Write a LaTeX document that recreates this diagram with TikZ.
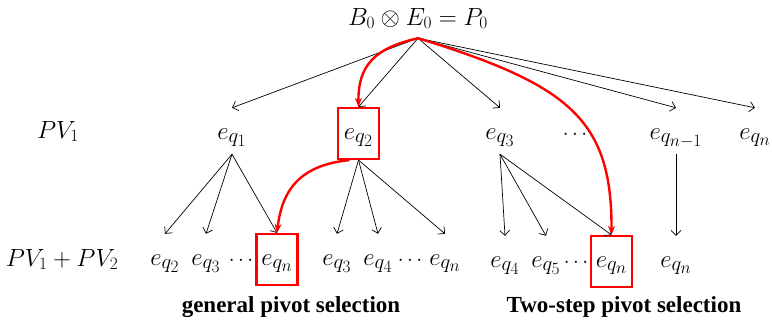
\documentclass[tikz,border=0pt]{standalone}
\usepackage{fontspec}
\newfontfamily\capfont{Liberation Serif}
\usetikzlibrary{arrows.meta}
% larger sub- and superscripts for the entry labels
\DeclareMathSizes{28}{28}{20}{16}
\DeclareMathSizes{26}{26}{19}{15}
\begin{document}
\begin{tikzpicture}[x=1pt,y=-1pt,
  every node/.style={font=\fontsize{26}{30}\selectfont},
  ent/.style={anchor=base, inner sep=0pt, text height=31pt, text depth=20pt, minimum width=41pt,
    font=\fontsize{28}{32}\selectfont},
  pick/.style={ent, draw=red, line width=2.2pt},
  lbl/.style={anchor=base, inner sep=0pt},
  dotsx/.style={anchor=base, inner sep=0pt, font=\fontsize{20}{24}\selectfont},
  captext/.style={anchor=base, inner sep=0pt, font=\capfont\bfseries\fontsize{23}{26}\selectfont},
  link/.style={line width=0.7pt, -{Straight Barb[length=5pt,width=10pt]}},
  route/.style={red, line width=2.4pt, -{Stealth[length=9pt,width=7pt]}}
]
\useasboundingbox (0,0) rectangle (772,324);

% root product
\node[lbl, text depth=13pt] (root) at (418,25) {$B_0 \otimes E_0 = P_0$};

% row labels
\node[lbl] (pv1) at (58,138) {$PV_1$};
\node[lbl] (pv12) at (62,266) {$PV_1 + PV_2$};

% first pivot level
\node[ent]   (q1) at (232,139)   {$e_{q_1}$};
\node[pick]  (q2) at (358.5,139) {$e_{q_2}$};
\node[ent]   (q3) at (500,139)   {$e_{q_3}$};
\node[dotsx] (qd) at (575,139)   {$\cdots$};
\node[ent]   (qm) at (676,139)   {$e_{q_{n-1}}$};
\node[ent]   (qn) at (755,139)   {$e_{q_n}$};

% second pivot level
\node[ent]   (a2) at (165,265) {$e_{q_2}$};
\node[ent]   (a3) at (206,265) {$e_{q_3}$};
\node[dotsx] (ad) at (241,265) {$\cdots$};
\node[pick]  (an) at (277,265) {$e_{q_n}$};

\node[ent]   (b3) at (337,265) {$e_{q_3}$};
\node[ent]   (b4) at (378,265) {$e_{q_4}$};
\node[dotsx] (bd) at (410,265) {$\cdots$};
\node[ent]   (bn) at (445,265) {$e_{q_n}$};

\node[ent]   (c4) at (505,267)   {$e_{q_4}$};
\node[ent]   (c5) at (546,267)   {$e_{q_5}$};
\node[dotsx] (cd) at (576,267)   {$\cdots$};
\node[pick]  (cn) at (611.5,267) {$e_{q_n}$};
\node[ent]   (cm) at (676,267)   {$e_{q_n}$};

% captions
\node[captext] (gen) at (291,312) {general pivot selection};
\node[captext] (two) at (624,312) {Two-step pivot selection};

% branches from the root
\foreach \t in {q1,q2,q3,qm,qn}
  \draw[link] (root.south) -- (\t.north);

% branches of the second level
\foreach \t in {a2,a3,an}
  \draw[link] ([yshift=5pt]q1.south) -- (\t.north);
\foreach \t in {b3,b4,bn}
  \draw[link] (q2.south) -- (\t.north);
\foreach \t in {c4,c5,cn}
  \draw[link] ([yshift=5pt]q3.south) -- (\t.north);
\draw[link] ([yshift=5pt]qm.south) -- (cm.north);

% selection routes
\draw[route] (root.south) .. controls (375,48) and (358,65) .. (q2.north);
\draw[route] ([xshift=-9pt]q2.south) .. controls (300,165) and (282,190) .. (an.north);
\draw[route] (root.south) .. controls (570,85) and (612,120) .. (cn.north);
\end{tikzpicture}
\end{document}
